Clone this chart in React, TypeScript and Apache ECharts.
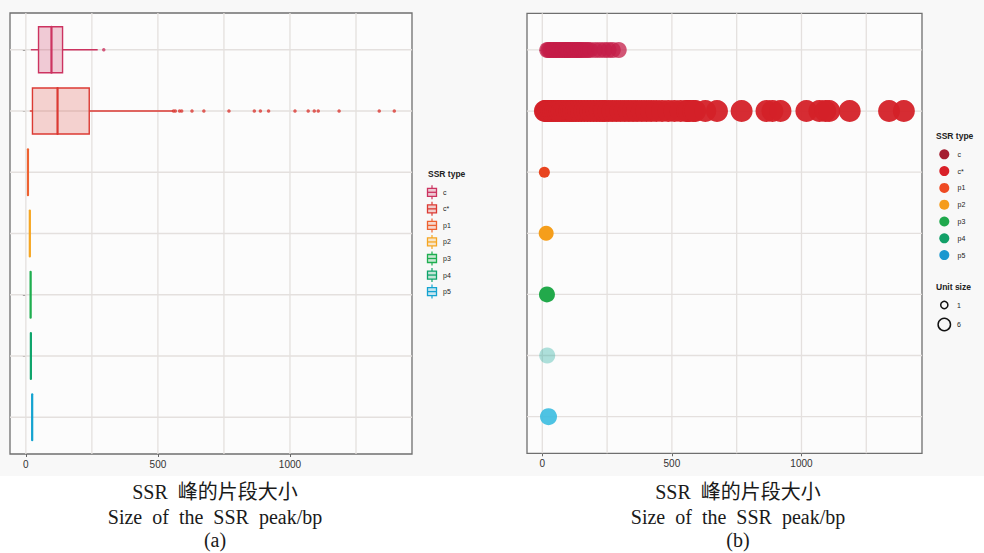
import React, { useEffect, useRef } from "react";
import * as echarts from "echarts";

// SSR types, top to bottom
const ssrTypes = ["c", "c*", "p1", "p2", "p3", "p4", "p5"];
const rowPos = [1, 2, 3, 4, 5, 6, 7];

// Box statistics per SSR type (bp)
const boxLow = [19, 15, 8, 15, 18, 19, 24];
const boxQ1 = [48, 25, 8, 15, 18, 19, 24];
const boxMedian = [97, 120, 8, 15, 18, 19, 24];
const boxQ3 = [139, 240, 8, 15, 18, 19, 24];
const boxHigh = [272, 558, 8, 15, 18, 19, 24];

// Outlying peaks
const cOutliers = [295];
const cStarOutliers = [
  559, 566, 582, 590, 629, 674, 769, 865, 888, 919, 1019, 1069, 1092, 1107,
  1186, 1338, 1395,
];

// Individual peak sizes (bp) inside the whiskers
const cPeaks = [
  19, 24, 30, 36, 42, 48, 53, 58, 64, 70, 76, 82, 88, 94, 97, 100, 106, 112,
  118, 124, 130, 136, 139, 146, 152, 160, 168, 176, 185, 204, 222, 240, 256,
  272,
];
const cStarPeaks = [
  10, 14, 18, 22, 25, 30, 36, 42, 50, 58, 66, 75, 84, 94, 104, 112, 120, 130,
  140, 150, 162, 174, 186, 198, 210, 222, 234, 240, 255, 270, 286, 302, 318,
  334, 350, 366, 384, 402, 420, 440, 462, 486, 510, 534, 558,
];
const p1Peaks = [8];
const p2Peaks = [15];
const p3Peaks = [18];
const p4Peaks = [19];
const p5Peaks = [24];

const xTicks = [0, 500, 1000];
const xGrid = [0, 250, 500, 750, 1000, 1250];

// styling
const boxColors = ["#cc3360", "#db3a33", "#ee6230", "#f5a623", "#1fae50", "#0ea46b", "#14a3d0"];
const boxFills = [
  "rgba(204,51,96,0.25)",
  "rgba(219,58,51,0.22)",
  "rgba(238,98,48,0.22)",
  "rgba(245,166,35,0.22)",
  "rgba(31,174,80,0.22)",
  "rgba(14,164,107,0.22)",
  "rgba(20,163,208,0.22)",
];
const dotColors = ["#c41e48", "#d42128", "#e8441f", "#f59e1b", "#22a94b", "#1aa89a", "#3bbde0"];
const dotOpacity = [0.75, 0.95, 1, 1, 1, 0.35, 0.9];
const dotSizes = [16, 22, 11, 15, 16, 16, 17];
const keyColors = ["#a51d30", "#d92028", "#ee4a23", "#f59c1c", "#1fa84c", "#12a068", "#1b97cf"];

const SANS = '"Liberation Sans", Arial, Helvetica, sans-serif';
const SERIF = '"Liberation Serif", "Times New Roman", "Noto Sans CJK SC", serif';
const GRID_COLOR = "#e4e0de";

function axisPair(gridIndex: number, xMin: number, xMax: number) {
  const x = {
    type: "value",
    gridIndex,
    min: xMin,
    max: xMax,
    axisLine: { show: false },
    splitLine: { show: false },
    axisTick: {
      show: true,
      customValues: xTicks,
      length: 3,
      lineStyle: { color: "#666", width: 1 },
    },
    axisLabel: {
      show: true,
      customValues: xTicks,
      formatter: (v: number) => String(v),
      margin: 5,
      fontSize: 10,
      fontFamily: SANS,
      color: "#333",
    },
  };
  const y = {
    type: "value",
    gridIndex,
    inverse: true,
    min: 0.4,
    max: 7.6,
    axisLine: { show: false },
    splitLine: { show: false },
    axisTick: {
      show: true,
      customValues: rowPos,
      length: 3,
      lineStyle: { color: "#666", width: 1 },
    },
    axisLabel: { show: false },
  };
  return { x, y };
}

// panel grid lines, drawn beneath the marks
function gridLines(axisIndex: number) {
  const vertical = {
    type: "custom",
    xAxisIndex: axisIndex,
    yAxisIndex: axisIndex,
    silent: true,
    z: 1,
    encode: { x: 0, y: 1 },
    data: xGrid.map((v) => [v, 1]),
    renderItem: (params: any, api: any) => {
      const cs = params.coordSys;
      const x = api.coord([api.value(0), 1])[0];
      return {
        type: "line",
        shape: { x1: x, y1: cs.y, x2: x, y2: cs.y + cs.height },
        style: { stroke: GRID_COLOR, lineWidth: 1.3 },
      };
    },
  };
  const horizontal = {
    type: "custom",
    xAxisIndex: axisIndex,
    yAxisIndex: axisIndex,
    silent: true,
    z: 1,
    encode: { x: 0, y: 1 },
    data: rowPos.map((r) => [0, r]),
    renderItem: (params: any, api: any) => {
      const cs = params.coordSys;
      const y = api.coord([0, api.value(1)])[1];
      return {
        type: "line",
        shape: { x1: cs.x, y1: y, x2: cs.x + cs.width, y2: y },
        style: { stroke: GRID_COLOR, lineWidth: 1.3 },
      };
    },
  };
  return [vertical, horizontal];
}

export default function App() {
  const ref = useRef<HTMLDivElement>(null);

  useEffect(() => {
    if (!ref.current) return;
    const chart = echarts.init(ref.current, null, { renderer: "svg" });

    const left = axisPair(0, -60, 1462);
    const right = axisPair(1, -59, 1465);

    const boxData = rowPos.map((r, i) => [r, boxLow[i], boxQ1[i], boxMedian[i], boxQ3[i], boxHigh[i]]);

    const rightPeaks = [
      cPeaks.concat(cOutliers),
      cStarPeaks.concat(cStarOutliers),
      p1Peaks,
      p2Peaks,
      p3Peaks,
      p4Peaks,
      p5Peaks,
    ];

    const dotSeries = rightPeaks.map((peaks, i) => ({
      type: "scatter",
      name: ssrTypes[i],
      xAxisIndex: 1,
      yAxisIndex: 1,
      symbol: "circle",
      symbolSize: dotSizes[i],
      itemStyle: { color: dotColors[i], opacity: dotOpacity[i] },
      data: peaks.map((v) => [v, rowPos[i]]),
      z: 3,
    }));

    // Legend keys
    const legendA: any[] = [
      {
        type: "text",
        x: 428,
        y: 174,
        style: { text: "SSR type", font: `bold 8.5px ${SANS}`, fill: "#222", textVerticalAlign: "middle" },
      },
    ];
    ssrTypes.forEach((t, i) => {
      const cy = 192.3 + i * 16.55;
      const cx = 432;
      legendA.push(
        { type: "line", shape: { x1: cx, y1: cy - 7, x2: cx, y2: cy - 4 }, style: { stroke: boxColors[i], lineWidth: 1.2 } },
        { type: "line", shape: { x1: cx, y1: cy + 4, x2: cx, y2: cy + 7 }, style: { stroke: boxColors[i], lineWidth: 1.2 } },
        {
          type: "rect",
          shape: { x: cx - 4.5, y: cy - 4, width: 9, height: 8 },
          style: { fill: boxFills[i], stroke: boxColors[i], lineWidth: 1.3 },
        },
        { type: "line", shape: { x1: cx - 4.5, y1: cy, x2: cx + 4.5, y2: cy }, style: { stroke: boxColors[i], lineWidth: 1.3 } },
        {
          type: "text",
          x: 443,
          y: cy,
          style: { text: t, font: `7px ${SANS}`, fill: "#222", textVerticalAlign: "middle" },
        }
      );
    });

    const legendB: any[] = [
      {
        type: "text",
        x: 936,
        y: 136,
        style: { text: "SSR type", font: `bold 8.5px ${SANS}`, fill: "#222", textVerticalAlign: "middle" },
      },
    ];
    ssrTypes.forEach((t, i) => {
      const cy = 154.3 + i * 16.8;
      legendB.push(
        { type: "circle", shape: { cx: 944.3, cy, r: 5 }, style: { fill: keyColors[i] } },
        {
          type: "text",
          x: 957.5,
          y: cy,
          style: { text: t, font: `7px ${SANS}`, fill: "#222", textVerticalAlign: "middle" },
        }
      );
    });
    legendB.push(
      {
        type: "text",
        x: 936,
        y: 287,
        style: { text: "Unit size", font: `bold 8.5px ${SANS}`, fill: "#222", textVerticalAlign: "middle" },
      },
      { type: "circle", shape: { cx: 944.3, cy: 305, r: 3.6 }, style: { fill: "none", stroke: "#111", lineWidth: 1.5 } },
      { type: "text", x: 957, y: 305, style: { text: "1", font: `7px ${SANS}`, fill: "#222", textVerticalAlign: "middle" } },
      { type: "circle", shape: { cx: 944.3, cy: 324.5, r: 6.2 }, style: { fill: "none", stroke: "#111", lineWidth: 1.5 } },
      { type: "text", x: 957, y: 324.5, style: { text: "6", font: `7px ${SANS}`, fill: "#222", textVerticalAlign: "middle" } }
    );

    const caption = (text: string, x: number, y: number) => ({
      type: "text",
      x,
      y,
      style: {
        text,
        font: `20px ${SERIF}`,
        fill: "#1a1a1a",
        textAlign: "center",
        textVerticalAlign: "middle",
      },
    });
    const sp = "\u2002";
    const captions = [
      caption(`SSR${sp}峰的片段大小`, 215, 492),
      caption(`Size${sp}of${sp}the${sp}SSR${sp}peak/bp`, 215, 517),
      caption("(a)", 215, 540),
      caption(`SSR${sp}峰的片段大小`, 738, 492),
      caption(`Size${sp}of${sp}the${sp}SSR${sp}peak/bp`, 738, 517),
      caption("(b)", 738, 540),
    ];

    chart.setOption({
      animation: false,
      backgroundColor: "#ffffff",
      grid: [
        {
          left: 10,
          top: 13,
          width: 402,
          height: 441,
          show: true,
          backgroundColor: "#fcfcfc",
          borderColor: "#6f6f6f",
          borderWidth: 1.3,
        },
        {
          left: 527,
          top: 13.3,
          width: 395,
          height: 440,
          show: true,
          backgroundColor: "#fcfcfc",
          borderColor: "#6f6f6f",
          borderWidth: 1.3,
        },
      ],
      xAxis: [left.x, right.x],
      yAxis: [left.y, right.y],
      graphic: [
        {
          type: "rect",
          z: -10,
          silent: true,
          shape: { x: 0, y: 0, width: 984, height: 476 },
          style: { fill: "#f8f8f8" },
        },
        ...legendA,
        ...legendB,
        ...captions,
      ],
      series: [
        ...gridLines(0),
        ...gridLines(1),
        {
          type: "custom",
          xAxisIndex: 0,
          yAxisIndex: 0,
          z: 3,
          encode: { x: [1, 2, 3, 4, 5], y: 0 },
          data: boxData,
          renderItem: (params: any, api: any) => {
            const i = params.dataIndex;
            const row = api.value(0);
            const pLo = api.coord([api.value(1), row]);
            const pQ1 = api.coord([api.value(2), row]);
            const pMed = api.coord([api.value(3), row]);
            const pQ3 = api.coord([api.value(4), row]);
            const pHi = api.coord([api.value(5), row]);
            const half = api.size([0, 0.375])[1];
            const y = pMed[1];
            const color = boxColors[i];
            const flat = pQ3[0] - pQ1[0] < 1;
            return {
              type: "group",
              children: [
                { type: "line", shape: { x1: pLo[0], y1: y, x2: pQ1[0], y2: y }, style: { stroke: color, lineWidth: 1.4 } },
                { type: "line", shape: { x1: pQ3[0], y1: y, x2: pHi[0], y2: y }, style: { stroke: color, lineWidth: 1.4 } },
                {
                  type: "rect",
                  shape: { x: pQ1[0], y: y - half, width: pQ3[0] - pQ1[0], height: half * 2 },
                  style: { fill: boxFills[i], stroke: color, lineWidth: flat ? 1 : 1.4 },
                },
                {
                  type: "line",
                  shape: { x1: pMed[0], y1: y - half, x2: pMed[0], y2: y + half },
                  style: { stroke: color, lineWidth: 2.2, lineCap: "round" },
                },
              ],
            };
          },
        },
        {
          type: "scatter",
          xAxisIndex: 0,
          yAxisIndex: 0,
          symbolSize: 3.5,
          z: 3,
          itemStyle: { color: boxColors[0] },
          data: cOutliers.map((v) => [v, rowPos[0]]),
        },
        {
          type: "scatter",
          xAxisIndex: 0,
          yAxisIndex: 0,
          symbolSize: 3.5,
          z: 3,
          itemStyle: { color: boxColors[1] },
          data: cStarOutliers.map((v) => [v, rowPos[1]]),
        },
        ...dotSeries,
      ],
    });

    return () => chart.dispose();
  }, []);

  return (
    <div
      ref={ref}
      style={{ position: "absolute", left: 0, top: 0, width: 984, height: 553 }}
    />
  );
}
